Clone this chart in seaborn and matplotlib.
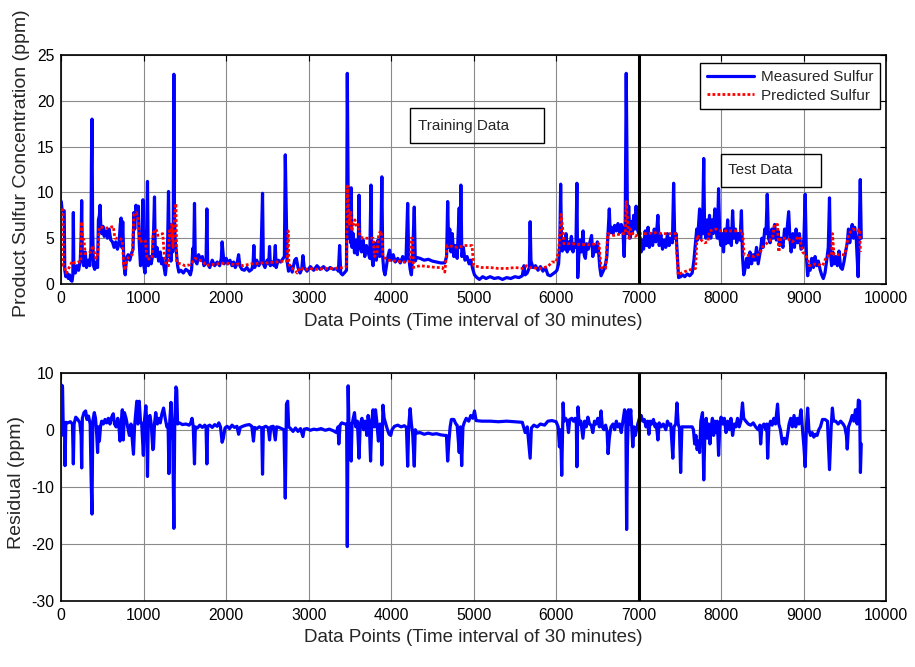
import matplotlib
matplotlib.use("Agg")
import matplotlib.pyplot as plt
from matplotlib.patches import Rectangle
import seaborn as sns
import pandas as pd

# Measured product sulfur (sample index, ppm)
measured = [
    (0, 9.0), (8, 8.2), (15, 8.0), (25, 8.0), (35, 8.0), (42, 1.5), (55, 0.8), (70, 1.2),
    (85, 0.6), (100, 1.0), (115, 0.4), (130, 0.3), (140, 1.0), (146, 7.8), (152, 1.5),
    (170, 1.2), (190, 2.0), (210, 1.5), (230, 2.6), (240, 5.0), (247, 9.1), (255, 3.0),
    (270, 2.0), (290, 3.5), (305, 1.8), (325, 2.6), (345, 2.0), (360, 4.0), (365, 12.8),
    (372, 18.0), (380, 6.0), (390, 2.0), (405, 1.6), (420, 2.4), (440, 1.8), (450, 7.0),
    (462, 7.5), (470, 8.6), (478, 6.5), (490, 5.5), (505, 6.3), (520, 5.2), (540, 5.8),
    (560, 5.0), (580, 6.0), (600, 4.8), (620, 4.6), (640, 4.0), (660, 4.6), (680, 3.8),
    (700, 4.4), (715, 6.5), (725, 7.2), (735, 4.0), (745, 6.8), (760, 2.0), (775, 1.0),
    (790, 2.8), (810, 3.2), (830, 2.6), (850, 3.3), (870, 3.8), (880, 7.8), (890, 6.0),
    (905, 8.6), (920, 7.6), (935, 8.5), (945, 4.5), (960, 2.0), (975, 2.6), (990, 9.2),
    (1000, 2.0), (1015, 1.2), (1030, 3.5), (1045, 11.2), (1055, 2.0), (1075, 3.0),
    (1090, 2.2), (1105, 3.0), (1120, 6.0), (1130, 9.5), (1140, 3.0), (1160, 4.0),
    (1180, 2.5), (1200, 3.5), (1215, 2.2), (1230, 2.8), (1250, 1.6), (1262, 1.0),
    (1275, 2.2), (1290, 4.8), (1300, 10.1), (1310, 3.0), (1320, 6.5), (1330, 2.5),
    (1340, 5.5), (1350, 3.5), (1358, 7.0), (1365, 22.9), (1372, 8.0), (1380, 4.8),
    (1395, 3.5), (1410, 2.0), (1425, 1.3), (1450, 1.5), (1480, 1.2), (1510, 1.6),
    (1540, 1.4), (1565, 1.0), (1580, 1.6), (1595, 3.9), (1605, 2.8), (1615, 8.8),
    (1625, 2.5), (1645, 2.2), (1665, 3.2), (1690, 2.6), (1710, 3.0), (1730, 2.0),
    (1755, 2.4), (1765, 8.2), (1775, 2.2), (1800, 1.8), (1830, 2.6), (1860, 2.0),
    (1890, 2.4), (1920, 2.0), (1940, 2.8), (1950, 4.6), (1960, 3.5), (1975, 2.2),
    (2000, 2.8), (2020, 2.2), (2045, 2.6), (2070, 2.0), (2090, 2.4), (2110, 1.8),
    (2130, 2.2), (2150, 3.2), (2165, 2.0), (2190, 1.6), (2220, 1.5), (2250, 1.8),
    (2280, 1.4), (2310, 1.6), (2325, 2.2), (2335, 4.2), (2345, 1.8), (2370, 2.6),
    (2395, 2.0), (2420, 2.4), (2440, 9.9), (2450, 2.2), (2470, 1.8), (2495, 2.6),
    (2515, 2.2), (2525, 4.1), (2535, 2.0), (2560, 2.4), (2580, 2.0), (2595, 4.2),
    (2605, 1.8), (2630, 2.6), (2660, 2.4), (2690, 2.8), (2705, 3.0), (2716, 14.1),
    (2728, 8.0), (2738, 2.5), (2755, 1.4), (2775, 2.0), (2800, 1.3), (2830, 2.6),
    (2850, 2.8), (2870, 1.8), (2895, 1.2), (2915, 1.6), (2930, 3.1), (2945, 1.8),
    (2980, 1.4), (3020, 1.9), (3060, 1.5), (3100, 2.0), (3140, 1.6), (3180, 1.9),
    (3220, 1.5), (3260, 1.8), (3300, 1.6), (3340, 1.7), (3360, 1.4), (3375, 4.2),
    (3388, 1.2), (3410, 1.0), (3440, 1.3), (3458, 1.5), (3468, 23.0), (3478, 10.0),
    (3488, 5.0), (3500, 9.0), (3508, 4.5), (3515, 10.5), (3525, 4.0), (3540, 5.5),
    (3555, 3.4), (3575, 4.8), (3590, 3.2), (3602, 5.0), (3610, 9.7), (3620, 4.2),
    (3640, 3.5), (3660, 4.8), (3680, 3.0), (3700, 4.2), (3720, 3.5), (3740, 2.8),
    (3755, 10.8), (3765, 3.0), (3780, 2.0), (3800, 4.5), (3820, 2.6), (3840, 4.8),
    (3860, 3.0), (3875, 5.0), (3887, 11.7), (3897, 3.0), (3910, 1.5), (3925, 1.0),
    (3940, 1.8), (3960, 3.0), (3980, 3.7), (4000, 2.6), (4025, 3.2), (4050, 2.4),
    (4080, 2.8), (4110, 2.3), (4140, 3.0), (4165, 2.4), (4180, 2.8), (4200, 8.8),
    (4212, 3.0), (4230, 1.6), (4245, 1.0), (4260, 3.0), (4280, 8.4), (4292, 2.5),
    (4310, 2.9), (4350, 2.8), (4400, 2.6), (4450, 2.7), (4500, 2.5), (4550, 2.4),
    (4600, 2.3), (4650, 2.3), (4672, 3.0), (4685, 9.0), (4697, 4.0), (4710, 6.0),
    (4725, 3.5), (4740, 5.5), (4760, 3.0), (4780, 4.2), (4800, 2.8), (4825, 8.3),
    (4835, 4.0), (4845, 10.8), (4857, 3.0), (4875, 4.0), (4895, 2.6), (4920, 3.0),
    (4945, 2.2), (4965, 2.6), (4990, 1.6), (5010, 1.0), (5040, 0.7), (5070, 0.5),
    (5110, 0.8), (5150, 0.6), (5200, 0.8), (5250, 0.6), (5300, 0.7), (5350, 0.5),
    (5400, 0.7), (5450, 0.6), (5500, 0.8), (5550, 0.7), (5590, 0.9), (5610, 2.0),
    (5625, 1.0), (5650, 1.2), (5675, 1.8), (5685, 6.8), (5695, 2.5), (5720, 1.8),
    (5750, 2.0), (5780, 1.5), (5810, 1.9), (5840, 1.4), (5870, 1.8), (5900, 1.0),
    (5930, 0.9), (5960, 1.1), (5990, 1.3), (6010, 1.5), (6030, 2.2), (6045, 4.5),
    (6055, 10.9), (6065, 5.0), (6075, 3.6), (6090, 4.8), (6105, 3.8), (6120, 5.5),
    (6135, 3.5), (6150, 4.6), (6165, 3.8), (6185, 5.2), (6205, 3.5), (6225, 4.4),
    (6240, 4.0), (6252, 11.0), (6262, 0.7), (6275, 3.0), (6290, 4.8), (6305, 3.5),
    (6327, 5.8), (6340, 3.2), (6355, 2.8), (6370, 4.4), (6390, 3.8), (6410, 4.6),
    (6430, 5.3), (6445, 3.0), (6460, 4.2), (6480, 3.5), (6500, 4.6), (6515, 3.5),
    (6530, 1.8), (6545, 0.9), (6560, 1.2), (6580, 1.6), (6600, 2.2), (6615, 3.0),
    (6630, 5.5), (6645, 8.2), (6655, 5.6), (6670, 6.2), (6690, 5.5), (6710, 6.4),
    (6730, 5.8), (6750, 6.6), (6770, 5.6), (6790, 6.5), (6810, 5.8), (6825, 3.0),
    (6838, 7.0), (6850, 23.0), (6858, 15.0), (6866, 5.5), (6880, 8.5), (6895, 5.0),
    (6910, 6.8), (6925, 5.5), (6940, 7.5), (6955, 6.0), (6970, 8.5), (6985, 6.0),
    (7000, 5.5), (7020, 5.0), (7032, 3.5), (7045, 4.8), (7060, 3.8), (7080, 5.8),
    (7095, 4.2), (7115, 6.2), (7130, 4.0), (7150, 5.5), (7170, 4.2), (7190, 6.0),
    (7210, 4.6), (7234, 7.5), (7250, 4.2), (7270, 5.4), (7290, 3.8), (7310, 4.8),
    (7330, 4.0), (7350, 5.5), (7370, 4.2), (7390, 5.0), (7410, 4.5), (7425, 11.0),
    (7438, 5.0), (7455, 5.5), (7470, 3.0), (7485, 0.7), (7510, 0.8), (7535, 1.0),
    (7560, 0.8), (7590, 1.1), (7620, 0.9), (7650, 1.2), (7670, 2.5), (7690, 4.5),
    (7705, 6.0), (7715, 4.8), (7740, 8.2), (7752, 5.0), (7765, 6.5), (7775, 5.5),
    (7790, 13.7), (7800, 6.0), (7815, 5.0), (7830, 7.0), (7845, 5.2), (7860, 7.5),
    (7875, 5.0), (7890, 7.0), (7905, 5.5), (7925, 8.2), (7940, 6.0), (7955, 5.0),
    (7970, 10.4), (7985, 5.0), (8000, 4.2), (8015, 5.5), (8030, 3.5), (8045, 6.0),
    (8060, 4.4), (8080, 7.0), (8095, 4.5), (8110, 6.0), (8125, 4.2), (8140, 8.0),
    (8155, 5.0), (8175, 6.0), (8190, 4.5), (8210, 5.5), (8230, 4.8), (8247, 8.0),
    (8260, 3.0), (8275, 1.0), (8290, 1.6), (8310, 2.8), (8330, 1.8), (8350, 3.5),
    (8370, 2.2), (8390, 3.2), (8410, 2.6), (8430, 4.0), (8450, 2.2), (8465, 3.0),
    (8480, 3.8), (8495, 5.0), (8510, 4.0), (8530, 6.0), (8545, 5.5), (8560, 9.8),
    (8575, 5.0), (8595, 4.5), (8615, 6.0), (8630, 5.0), (8650, 6.5), (8670, 4.8),
    (8690, 5.8), (8710, 4.2), (8730, 5.0), (8750, 4.0), (8770, 6.0), (8790, 5.0),
    (8808, 6.8), (8820, 7.9), (8835, 5.0), (8850, 3.5), (8870, 5.5), (8890, 4.0),
    (8910, 6.0), (8930, 4.5), (8950, 5.5), (8970, 3.8), (8990, 4.0), (9005, 5.0),
    (9020, 9.8), (9035, 3.0), (9050, 0.9), (9065, 2.0), (9080, 1.5), (9100, 2.8),
    (9120, 1.8), (9140, 3.0), (9160, 2.0), (9180, 2.5), (9200, 1.6), (9220, 1.0),
    (9240, 0.6), (9260, 1.2), (9280, 2.5), (9300, 4.0), (9315, 9.4), (9325, 3.5),
    (9340, 2.0), (9355, 3.5), (9370, 2.2), (9390, 3.0), (9410, 2.0), (9430, 3.6),
    (9450, 1.8), (9470, 1.6), (9490, 2.4), (9510, 3.5), (9530, 4.5), (9545, 6.0),
    (9560, 4.5), (9575, 5.5), (9590, 6.5), (9605, 5.0), (9620, 6.2), (9640, 4.8),
    (9662, 0.8), (9675, 5.5), (9688, 11.4), (9700, 5.0),
]

# Model-predicted product sulfur (sample index, ppm)
predicted = [
    (0, 8.1), (20, 8.1), (25, 2.0), (40, 1.8), (60, 1.2), (80, 1.6), (110, 2.0),
    (130, 2.5), (160, 2.3), (200, 2.4), (235, 2.4), (245, 6.8), (255, 5.0), (275, 4.8),
    (290, 3.3), (330, 3.4), (360, 3.5), (380, 4.2), (400, 3.5), (420, 2.8), (440, 3.2),
    (460, 6.2), (500, 6.2), (550, 6.1), (600, 6.2), (630, 6.3), (650, 5.0), (700, 5.0),
    (740, 4.8), (755, 2.2), (770, 1.5), (790, 2.5), (820, 3.0), (860, 3.2), (880, 7.6),
    (910, 7.8), (935, 7.0), (950, 4.6), (1000, 4.8), (1020, 4.7), (1040, 2.7),
    (1100, 2.8), (1115, 5.6), (1150, 6.0), (1170, 5.3), (1230, 5.5), (1250, 3.0),
    (1275, 2.0), (1300, 2.0), (1310, 5.8), (1325, 5.0), (1340, 6.5), (1355, 4.0),
    (1370, 7.0), (1390, 8.8), (1400, 2.3), (1450, 2.2), (1500, 2.0), (1560, 2.1),
    (1590, 2.4), (1620, 2.8), (1680, 2.6), (1720, 2.4), (1760, 2.0), (1800, 2.1),
    (1900, 2.2), (2000, 2.3), (2050, 2.2), (2100, 2.1), (2150, 2.2), (2200, 2.0),
    (2300, 2.2), (2350, 2.2), (2400, 2.3), (2500, 2.3), (2600, 2.4), (2700, 2.5),
    (2740, 2.5), (2750, 5.8), (2760, 2.2), (2780, 1.8), (2820, 1.6), (2860, 1.2),
    (2900, 1.8), (2950, 1.5), (3000, 1.7), (3100, 1.6), (3200, 1.7), (3300, 1.7),
    (3440, 1.8), (3460, 2.0), (3470, 10.7), (3485, 8.0), (3495, 6.5), (3510, 8.0),
    (3520, 5.8), (3540, 6.5), (3560, 7.0), (3580, 6.2), (3600, 6.5), (3620, 5.2),
    (3660, 5.0), (3720, 5.0), (3780, 5.0), (3800, 3.0), (3830, 3.5), (3850, 5.5),
    (3875, 5.8), (3890, 5.0), (3900, 3.0), (3930, 2.8), (3960, 2.6), (4050, 2.5),
    (4150, 2.4), (4230, 2.5), (4240, 5.0), (4260, 5.0), (4270, 1.8), (4350, 2.0),
    (4450, 1.9), (4550, 1.8), (4620, 1.8), (4650, 1.3), (4680, 4.2), (4800, 4.0),
    (4900, 4.2), (4980, 4.2), (5000, 2.0), (5100, 1.8), (5200, 1.8), (5300, 1.7),
    (5400, 1.7), (5500, 1.8), (5600, 1.7), (5640, 2.0), (5680, 1.8), (5800, 1.7),
    (5900, 1.9), (5950, 2.4), (6000, 2.4), (6030, 3.6), (6060, 7.6), (6080, 6.0),
    (6095, 4.4), (6200, 4.4), (6300, 4.3), (6400, 4.3), (6520, 4.4), (6545, 1.8),
    (6600, 1.7), (6625, 5.5), (6700, 5.3), (6800, 5.5), (6840, 5.5), (6850, 9.0),
    (6870, 6.5), (6885, 5.0), (6900, 6.0), (6930, 5.5), (6960, 5.2), (7000, 5.5),
    (7100, 5.5), (7200, 5.6), (7300, 5.5), (7450, 5.5), (7480, 1.0), (7520, 1.2),
    (7600, 1.5), (7690, 1.7), (7710, 5.3), (7760, 4.8), (7800, 4.5), (7840, 4.6),
    (7860, 5.8), (7940, 6.0), (8000, 5.8), (8100, 5.8), (8260, 5.8), (8280, 3.2),
    (8400, 3.0), (8470, 3.3), (8500, 4.0), (8560, 4.5), (8625, 5.0), (8645, 6.5),
    (8685, 6.5), (8700, 3.5), (8725, 5.0), (8800, 5.0), (8860, 4.6), (8950, 5.2),
    (8990, 3.5), (9050, 2.8), (9070, 2.0), (9150, 2.2), (9230, 2.0), (9280, 3.0),
    (9340, 3.2), (9350, 5.5), (9370, 3.2), (9500, 3.2), (9550, 5.5), (9600, 6.0),
    (9650, 5.8), (9680, 6.0), (9690, 3.5),
]

# Prediction residual (sample index, ppm)
residual = [
    (0, 0.0), (8, 7.8), (15, 7.5), (25, -1.0), (40, 1.0), (45, -6.3), (55, 1.3),
    (80, 1.2), (110, 1.4), (135, 1.0), (146, -6.0), (155, 1.0), (175, 2.2), (200, 1.8),
    (225, 1.2), (240, -1.0), (247, -6.7), (255, 2.0), (275, 3.0), (295, 3.3), (310, 1.8),
    (330, 2.4), (350, 1.0), (362, -9.0), (372, -14.8), (382, 1.5), (400, 3.0),
    (415, 2.0), (430, -1.0), (440, -4.0), (450, 0.5), (462, -2.0), (475, 0.5),
    (490, 1.5), (510, 1.0), (530, 1.8), (550, 1.2), (570, 2.0), (590, 1.0), (610, 2.2),
    (630, 2.8), (645, 1.0), (665, 0.5), (685, 2.0), (700, 0.3), (712, -2.0), (725, 1.0),
    (740, 3.5), (752, -1.8), (765, 3.0), (785, 2.0), (805, 0.5), (825, -1.0), (845, 1.0),
    (865, -2.5), (875, -4.3), (888, 0.5), (900, 2.5), (915, 5.0), (930, 1.0), (945, 5.0),
    (960, 1.5), (975, 1.0), (995, -4.5), (1005, 1.0), (1025, 4.2), (1035, 1.5),
    (1045, -8.2), (1055, 2.0), (1075, 2.5), (1090, 1.0), (1110, -3.5), (1118, -3.2),
    (1130, 1.0), (1145, 3.0), (1165, 1.0), (1185, 2.0), (1200, 1.2), (1220, 2.8),
    (1240, 3.8), (1260, 2.0), (1280, 0.5), (1295, 0.8), (1305, -7.7), (1315, 1.5),
    (1330, 4.8), (1340, 1.5), (1352, -2.0), (1365, -17.3), (1375, 0.5), (1390, 7.5),
    (1400, 7.0), (1410, 1.0), (1430, 1.2), (1470, 0.9), (1510, 1.0), (1550, 0.8),
    (1570, 1.2), (1585, 2.0), (1600, 0.5), (1615, -6.0), (1625, 0.5), (1650, 0.3),
    (1680, 0.8), (1710, 0.4), (1740, 0.8), (1755, 0.5), (1765, -6.0), (1775, 0.6),
    (1800, 0.8), (1830, 0.4), (1860, 0.9), (1890, 0.6), (1910, 1.2), (1930, 0.5),
    (1950, -2.2), (1965, -1.5), (1985, 0.3), (2010, 0.6), (2040, 0.2), (2070, 0.8),
    (2100, 0.4), (2130, 0.6), (2150, -0.8), (2170, 0.4), (2200, 0.6), (2240, 0.8),
    (2280, 0.9), (2310, 0.6), (2330, -2.0), (2345, 0.4), (2370, 0.2), (2400, 0.5),
    (2430, 0.3), (2440, -7.8), (2450, 0.4), (2480, 0.6), (2510, 0.3), (2525, -1.8),
    (2540, 0.5), (2570, 0.6), (2595, -1.8), (2610, 0.5), (2640, 0.4), (2670, 0.2),
    (2700, 0.0), (2716, -12.0), (2730, 4.5), (2745, 5.0), (2757, 0.5), (2780, 0.2),
    (2810, -0.3), (2840, 0.3), (2870, -0.3), (2900, 0.2), (2930, -1.2), (2945, 0.1),
    (2980, 0.2), (3020, -0.1), (3060, 0.1), (3100, 0.0), (3150, 0.2), (3200, -0.1),
    (3250, 0.1), (3300, -0.2), (3335, -0.5), (3355, 0.5), (3365, -2.5), (3380, 0.8),
    (3400, 1.2), (3440, 1.0), (3460, 1.0), (3468, -20.5), (3478, 7.7), (3488, 0.5),
    (3495, -2.5), (3505, 1.0), (3515, -5.5), (3525, 0.8), (3540, 2.0), (3555, 3.0),
    (3570, 0.5), (3590, 1.5), (3610, -5.0), (3625, 1.0), (3645, 2.0), (3665, 0.0),
    (3685, 1.5), (3705, -1.0), (3720, 2.5), (3735, 1.0), (3750, -5.5), (3765, 1.5),
    (3780, 3.5), (3795, 0.5), (3810, 3.5), (3825, 1.5), (3845, -2.0), (3865, 1.0),
    (3880, 0.5), (3887, -6.2), (3900, 4.3), (3915, 2.0), (3935, 1.0), (3955, 0.0),
    (3975, -0.8), (3995, -1.0), (4010, 0.0), (4040, 0.6), (4080, 0.8), (4120, 0.5),
    (4160, 0.7), (4185, 0.4), (4200, -6.4), (4212, 0.5), (4230, 3.7), (4245, 1.0),
    (4260, -0.5), (4280, -6.4), (4292, 0.0), (4310, -0.6), (4350, -0.5), (4400, -0.8),
    (4450, -0.6), (4500, -0.8), (4550, -0.7), (4600, -0.9), (4650, -1.0), (4670, -1.0),
    (4685, -5.5), (4700, -2.0), (4715, 0.5), (4730, 1.8), (4760, 1.8), (4785, 1.0),
    (4800, 0.8), (4825, -4.0), (4840, 0.5), (4855, -6.3), (4870, 0.5), (4885, 1.2),
    (4910, 2.0), (4940, 1.5), (4965, 2.5), (4990, 2.0), (5010, 3.3), (5030, 1.6),
    (5100, 1.5), (5200, 1.5), (5300, 1.4), (5400, 1.5), (5500, 1.4), (5590, 1.3),
    (5625, -0.5), (5650, 0.5), (5685, -5.0), (5700, 0.3), (5730, 0.8), (5770, 0.5),
    (5810, 1.0), (5860, 0.8), (5900, 1.5), (5950, 1.6), (6000, 1.4), (6025, 0.5),
    (6040, -3.0), (6055, 0.0), (6068, -8.0), (6085, 4.7), (6095, 1.5), (6115, 2.0),
    (6135, 1.5), (6150, -0.5), (6165, 1.8), (6190, 2.0), (6210, 1.5), (6230, 2.0),
    (6245, 1.0), (6252, -6.5), (6265, 4.0), (6280, 1.0), (6300, 1.5), (6325, -1.5),
    (6345, 1.5), (6365, 0.5), (6385, 2.2), (6405, 1.0), (6425, 0.8), (6445, -0.5),
    (6465, 1.5), (6485, 1.0), (6505, 2.0), (6525, 0.5), (6545, 3.3), (6560, 0.5),
    (6580, 0.0), (6600, 0.8), (6618, -0.3), (6630, -4.2), (6645, -1.5), (6665, 0.5),
    (6690, 1.0), (6710, 0.0), (6730, 1.5), (6750, 0.5), (6770, 1.0), (6790, -0.5),
    (6810, 1.5), (6830, 3.5), (6845, 3.0), (6855, -17.5), (6865, -3.0), (6878, 3.5),
    (6890, 1.0), (6905, 3.5), (6915, 1.0), (6930, -3.0), (6945, 0.5), (6960, -1.0),
    (6975, 0.0), (6990, 1.0), (7010, 2.0), (7032, 2.5), (7050, 1.5), (7070, 1.8),
    (7090, 0.5), (7110, 1.5), (7125, -0.8), (7140, 1.5), (7160, 1.0), (7180, 1.8),
    (7200, 0.5), (7215, 1.0), (7234, -1.8), (7250, 1.2), (7275, 0.5), (7300, 1.0),
    (7330, 0.0), (7350, 1.5), (7370, 0.8), (7390, 1.0), (7415, -5.0), (7430, 0.5),
    (7450, 1.0), (7465, 4.7), (7480, 1.0), (7495, 0.3), (7510, -7.5), (7525, 0.5),
    (7560, 0.5), (7600, 0.5), (7650, 0.5), (7665, 0.0), (7680, -2.5), (7695, -1.0),
    (7710, -3.5), (7725, -2.0), (7740, -4.0), (7755, 1.5), (7775, 3.0), (7790, -8.8),
    (7805, 0.0), (7820, 2.0), (7835, -1.5), (7850, 1.0), (7865, -2.5), (7880, 0.5),
    (7895, 2.0), (7910, -1.0), (7925, 1.5), (7940, -0.5), (7955, 1.5), (7970, -4.5),
    (7985, 0.5), (8000, 2.2), (8020, 1.0), (8040, 2.0), (8060, -0.5), (8080, 1.5),
    (8100, 0.0), (8120, 2.0), (8140, -1.0), (8160, 1.0), (8180, 0.5), (8200, 2.0),
    (8220, 0.5), (8240, 1.5), (8260, 4.7), (8275, 2.0), (8300, 1.5), (8330, 1.0),
    (8360, 0.8), (8390, 1.2), (8420, 0.5), (8450, 0.0), (8470, 0.8), (8480, -2.5),
    (8495, 0.5), (8520, 1.0), (8540, 0.0), (8555, 1.0), (8565, -5.0), (8580, 0.5),
    (8600, 1.5), (8620, 0.8), (8640, 2.0), (8660, 1.0), (8685, 4.5), (8700, 1.0),
    (8720, 0.0), (8745, -2.5), (8765, -1.5), (8790, -2.5), (8805, -1.0), (8825, 1.0),
    (8845, 2.0), (8865, 0.5), (8885, 2.5), (8905, 0.5), (8925, 2.0), (8945, 1.0),
    (8970, 3.5), (8985, 0.5), (9005, -3.0), (9020, -6.5), (9035, 0.5), (9050, 3.8),
    (9065, 0.0), (9085, -1.0), (9105, -0.5), (9125, -1.3), (9145, -0.8), (9165, -1.0),
    (9185, 0.0), (9205, 0.5), (9230, 1.8), (9260, 1.8), (9290, 1.5), (9315, -7.0),
    (9335, 0.5), (9350, 3.8), (9365, 1.5), (9390, 1.5), (9420, 1.0), (9450, 1.5),
    (9480, 1.0), (9500, 0.5), (9520, -1.0), (9530, -3.4), (9545, 0.5), (9570, 1.5),
    (9590, 2.5), (9610, 1.5), (9630, 3.5), (9650, 1.0), (9665, 5.2), (9680, 5.0),
    (9690, -7.5), (9700, -2.5),
]

split_point = 7000
x_ticks = list(range(0, 10001, 1000))
conc_ticks = [0, 5, 10, 15, 20, 25]
resid_ticks = [-30, -20, -10, 0, 10]
x_title = "Data Points (Time interval of 30 minutes)"

meas_df = pd.DataFrame(measured, columns=["idx", "ppm"])
pred_df = pd.DataFrame(predicted, columns=["idx", "ppm"])
res_df = pd.DataFrame(residual, columns=["idx", "ppm"])

sns.set_theme(style="white")
plt.rcParams["font.family"] = ["Liberation Sans", "DejaVu Sans"]
plt.rcParams["axes.unicode_minus"] = False

fig = plt.figure(figsize=(9.15, 6.67), dpi=100)
ax1 = fig.add_axes([0.0670, 0.5742, 0.9013, 0.3433])
ax2 = fig.add_axes([0.0670, 0.0994, 0.9013, 0.3418])

BLUE = "#0000ff"
RED = "#ff0000"

sns.lineplot(data=meas_df, x="idx", y="ppm", ax=ax1, color=BLUE, linewidth=2.3,
             estimator=None, sort=False, label="Measured Sulfur", zorder=3)
sns.lineplot(data=pred_df, x="idx", y="ppm", ax=ax1, color=RED, linewidth=2.0,
             estimator=None, sort=False, label="Predicted Sulfur", zorder=4)
ax1.lines[-1].set_linestyle((0, (1.0, 0.8)))
ax1.lines[-1].set_dash_capstyle("butt")

sns.lineplot(data=res_df, x="idx", y="ppm", ax=ax2, color=BLUE, linewidth=2.3,
             estimator=None, sort=False, zorder=3)

for ax, yt, lo, hi in [(ax1, conc_ticks, 0, 25), (ax2, resid_ticks, -30, 10)]:
    ax.axvline(split_point, color="black", linewidth=2.2, zorder=5)
    ax.set_xlim(0, 10000)
    ax.set_ylim(lo, hi)
    ax.set_xticks(x_ticks)
    ax.set_yticks(yt)
    ax.set_axisbelow(True)
    ax.grid(True, color="#8a8a8a", linewidth=0.8)
    ax.tick_params(direction="in", top=True, right=True, length=4, width=0.8,
                   labelsize=11.3, pad=5, colors="black")
    for sp in ax.spines.values():
        sp.set_color("black")
        sp.set_linewidth(1.2)
        sp.set_visible(True)

ax1.set_xlabel(x_title, fontsize=13.5, va="center")
ax1.xaxis.set_label_coords(0.5, -0.162)
ax1.set_ylabel("Product Sulfur Concentration (ppm)", fontsize=14, va="center")
ax1.yaxis.set_label_coords(-0.0477, 0.526)

ax2.set_xlabel(x_title, fontsize=13.5, va="center")
ax2.xaxis.set_label_coords(0.5, -0.1636)
ax2.set_ylabel("Residual (ppm)", fontsize=14, va="center")
ax2.yaxis.set_label_coords(-0.0543, 0.518)

leg = ax1.legend(loc="upper right", bbox_to_anchor=(0.9927, 0.965), borderaxespad=0,
                 fontsize=11, frameon=True, fancybox=False, framealpha=1,
                 edgecolor="black", handlelength=3.1, handletextpad=0.4,
                 borderpad=0.45, labelspacing=0.3)
leg.get_frame().set_linewidth(1.0)
leg.set_zorder(10)

# Annotation boxes for the two data segments
for (x0, y0, w, h), (tx, ty), txt in [
    ((0.423, 0.616, 0.162, 0.153), (0.4325, 0.692), "Training Data"),
    ((0.7996, 0.4236, 0.1214, 0.1454), (0.808, 0.498), "Test Data"),
]:
    ax1.add_patch(Rectangle((x0, y0), w, h, transform=ax1.transAxes, fill=False,
                            edgecolor="black", linewidth=1.0, zorder=6))
    ax1.text(tx, ty, txt, transform=ax1.transAxes, fontsize=11, ha="left",
             va="center", zorder=6)

fig.savefig("out.png", dpi=100)
